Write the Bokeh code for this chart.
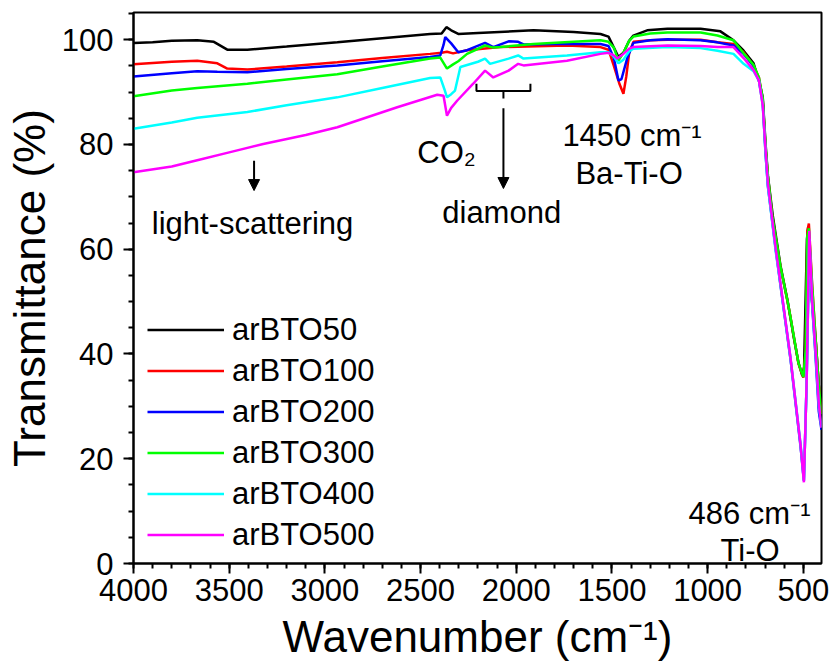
from bokeh.plotting import figure
from bokeh.models import Range1d, FixedTicker, Legend, LegendItem, Label, Arrow, NormalHead
from bokeh.embed import file_html
from bokeh.resources import INLINE

FONT = "Liberation Sans"

series_names = ["arBTO50", "arBTO100", "arBTO200", "arBTO300", "arBTO400", "arBTO500"]
series_colors = ["#000000", "#FF0000", "#0000FF", "#00FF00", "#00FFFF", "#FF00FF"]

wn_50 = [4000, 3900, 3800, 3667, 3580, 3510, 3405, 3200, 2935, 2700, 2450, 2390, 2365, 2340, 2303, 2200, 1910, 1700, 1560, 1518, 1490, 1466, 1440, 1410, 1388, 1316, 1210, 1037, 933, 865, 812, 760, 732, 712, 697, 685, 660, 619, 583, 551, 525, 505, 496, 481, 474, 455, 436, 420, 405]
t_50 = [99.4, 99.5, 99.8, 99.9, 99.6, 98.1, 98.1, 98.7, 99.5, 100.3, 101.1, 101.2, 102.4, 101.8, 101.1, 101.3, 101.8, 101.5, 101.1, 100.6, 98.5, 96.7, 97.5, 99.8, 100.8, 101.8, 102.1, 102.1, 101.6, 99.9, 97.9, 95.5, 92.2, 89.0, 80.0, 74.0, 66.5, 56.8, 50.3, 43.4, 38.3, 35.8, 37.5, 62.0, 64.3, 50.3, 43.0, 34.5, 28.8]

wn_100 = [4000, 3800, 3667, 3562, 3510, 3405, 3200, 2935, 2700, 2450, 2390, 2362, 2330, 2257, 2083, 1735, 1560, 1518, 1490, 1460, 1440, 1425, 1410, 1388, 1300, 1210, 1037, 949, 865, 812, 760, 732, 712, 697, 685, 662, 619, 583, 567, 525, 500, 488, 479, 471, 454, 436, 420, 405]
t_100 = [95.3, 95.8, 96.0, 95.5, 94.5, 94.3, 94.9, 95.7, 96.5, 97.3, 97.5, 97.7, 97.4, 98.0, 98.6, 98.9, 98.6, 98.1, 95.0, 91.5, 89.7, 93.0, 97.5, 99.6, 99.9, 100.0, 100.0, 99.5, 99.2, 97.6, 95.0, 92.8, 88.5, 79.0, 73.8, 66.1, 56.5, 50.1, 47.0, 38.1, 35.5, 40.6, 63.5, 64.9, 53.4, 43.1, 34.3, 28.6]

wn_200 = [4000, 3800, 3667, 3562, 3405, 3200, 2935, 2700, 2450, 2397, 2380, 2371, 2340, 2303, 2257, 2163, 2120, 2040, 1990, 1962, 1800, 1560, 1518, 1490, 1466, 1450, 1420, 1388, 1300, 1210, 1037, 949, 865, 812, 760, 732, 712, 697, 685, 644, 619, 567, 515, 497, 483, 469, 454, 436, 419, 405]
t_200 = [93.0, 93.6, 94.0, 93.9, 93.8, 94.4, 95.1, 95.9, 96.7, 97.0, 99.0, 100.5, 99.3, 97.6, 98.0, 99.4, 98.6, 99.7, 99.6, 99.1, 99.2, 99.2, 98.8, 96.5, 92.2, 92.5, 96.5, 99.4, 99.9, 100.1, 99.9, 99.5, 98.9, 97.3, 95.0, 92.2, 88.0, 78.0, 72.0, 60.0, 53.0, 39.0, 22.5, 15.8, 34.0, 62.0, 49.5, 39.5, 29.0, 25.5]

wn_300 = [4000, 3800, 3667, 3405, 3200, 2935, 2700, 2450, 2397, 2362, 2330, 2303, 2257, 2163, 2120, 2083, 1910, 1560, 1518, 1490, 1466, 1440, 1410, 1388, 1300, 1210, 1037, 949, 865, 812, 760, 732, 712, 697, 685, 662, 619, 583, 567, 525, 500, 488, 479, 471, 454, 436, 420, 405]
t_300 = [89.2, 90.3, 90.8, 91.6, 92.4, 93.4, 94.9, 96.4, 96.6, 94.5, 95.3, 95.9, 97.3, 98.9, 98.5, 98.6, 99.2, 99.9, 99.6, 98.5, 96.0, 97.5, 99.8, 100.6, 101.2, 101.4, 101.4, 100.8, 99.9, 97.4, 95.2, 92.8, 88.8, 79.5, 74.0, 66.3, 56.6, 50.2, 47.0, 38.2, 35.6, 40.6, 62.5, 64.0, 53.0, 43.0, 34.3, 28.5]

wn_400 = [4000, 3800, 3667, 3405, 3200, 2935, 2700, 2450, 2397, 2375, 2362, 2340, 2320, 2292, 2200, 2163, 2137, 2040, 1990, 1962, 1735, 1560, 1518, 1490, 1466, 1440, 1410, 1388, 1210, 1037, 949, 865, 812, 760, 732, 712, 697, 685, 644, 619, 567, 515, 497, 483, 469, 454, 436, 419, 405]
t_400 = [83.0, 84.2, 85.1, 86.2, 87.5, 89.0, 90.8, 92.7, 92.8, 90.5, 89.0, 89.6, 90.3, 94.8, 95.8, 96.4, 95.4, 96.4, 97.0, 96.4, 97.0, 97.6, 97.6, 96.8, 95.5, 96.2, 97.8, 98.3, 98.6, 98.4, 97.9, 97.3, 95.4, 94.0, 92.2, 87.5, 78.3, 72.0, 59.5, 53.2, 39.2, 23.0, 15.8, 34.3, 62.0, 49.8, 40.2, 30.3, 26.0]

wn_500 = [4000, 3800, 3667, 3500, 3322, 3100, 2935, 2622, 2413, 2380, 2362, 2340, 2308, 2225, 2163, 2120, 2040, 1990, 1962, 1735, 1560, 1518, 1490, 1472, 1440, 1410, 1388, 1210, 1037, 949, 865, 812, 760, 732, 712, 697, 685, 644, 619, 567, 515, 497, 483, 469, 454, 436, 419, 405]
t_500 = [74.7, 75.8, 77.0, 78.5, 80.1, 81.8, 83.3, 87.1, 89.5, 89.3, 85.5, 87.0, 88.4, 91.6, 94.1, 92.8, 94.1, 95.4, 95.1, 96.0, 97.3, 97.5, 97.0, 96.4, 97.3, 98.3, 98.6, 98.9, 98.8, 98.6, 98.6, 96.5, 94.2, 92.2, 87.5, 78.8, 72.5, 60.0, 53.4, 39.3, 22.9, 15.5, 34.3, 63.5, 50.2, 40.6, 30.5, 25.9]

all_wn = [wn_50, wn_100, wn_200, wn_300, wn_400, wn_500]
all_t = [t_50, t_100, t_200, t_300, t_400, t_500]

x_major = [4000, 3500, 3000, 2500, 2000, 1500, 1000, 500]
x_minor = list(range(4000, 399, -100))
y_major = [0, 20, 40, 60, 80, 100]
y_minor = list(range(0, 106, 5))

p = figure(width=831, height=665, output_backend="svg", toolbar_location=None,
           x_range=Range1d(4000, 405), y_range=Range1d(0, 105.2),
           min_border_left=133, min_border_right=10, min_border_top=12, min_border_bottom=102)
p.background_fill_color = "white"
p.border_fill_color = "white"
p.outline_line_color = "black"
p.outline_line_width = 2
p.grid.visible = False

p.xaxis.ticker = FixedTicker(ticks=x_major, minor_ticks=x_minor)
p.yaxis.ticker = FixedTicker(ticks=y_major, minor_ticks=y_minor)
p.xaxis.axis_label = "Wavenumber (cm\u207b\u00b9)"
p.yaxis.axis_label = "Transmittance (%)"
for ax in (p.xaxis, p.yaxis):
    ax.axis_line_width = 2
    ax.major_tick_line_width = 2
    ax.minor_tick_line_width = 2
    ax.major_tick_in = 0
    ax.major_tick_out = 10
    ax.minor_tick_in = 0
    ax.minor_tick_out = 5
    ax.major_label_text_font = FONT
    ax.major_label_text_font_size = "31px"
    ax.major_label_text_color = "black"
    ax.axis_label_text_font = FONT
    ax.axis_label_text_font_size = "44px"
    ax.axis_label_text_font_style = "normal"
    ax.axis_label_text_color = "black"
p.xaxis.major_label_standoff = 5
p.xaxis.axis_label_standoff = 8
p.yaxis.major_label_standoff = 10
p.yaxis.axis_label_standoff = 5

items = []
for name, color, wn, t in zip(series_names, series_colors, all_wn, all_t):
    r = p.line(wn, t, line_color=color, line_width=2.5)
    items.append(LegendItem(label=name, renderers=[r]))

legend = Legend(items=items, location=(14, 8), margin=0, padding=0,
                glyph_width=77, glyph_height=41, label_height=41, spacing=0,
                label_standoff=8, label_text_font=FONT, label_text_font_size="31px",
                label_text_color="black",
                background_fill_alpha=0, border_line_alpha=0)
p.add_layout(legend)

# annotations
def add_label(x, y, text, align="left", size="31px"):
    p.add_layout(Label(x=x, y=y, text=text, text_align=align, text_baseline="alphabetic",
                       text_font=FONT, text_font_size=size, text_color="black"))

add_label(3378, 64.9, "light-scattering", align="center")
add_label(2517, 78.4, "CO\u2082")
add_label(2076, 67.0, "diamond", align="center")
add_label(1759, 81.7, "1450 cm\u207b\u00b9")
add_label(1691, 74.5, "Ba-Ti-O")
add_label(1100, 9.5, "486 cm\u207b\u00b9")
add_label(933, 2.4, "Ti-O")

p.add_layout(Arrow(end=NormalHead(size=11, fill_color="black", line_color="black"),
                   x_start=3370, y_start=76.9, x_end=3370, y_end=71.2,
                   line_color="black", line_width=2))
p.add_layout(Arrow(end=NormalHead(size=11, fill_color="black", line_color="black"),
                   x_start=2067, y_start=86.9, x_end=2067, y_end=71.6,
                   line_color="black", line_width=2))

bracket_x = [2208, 2208, 1926, 1926]
bracket_y = [91.6, 90.2, 90.2, 91.6]
p.line(bracket_x, bracket_y, line_color="black", line_width=2)
p.line([2067, 2067], [90.2, 88.8], line_color="black", line_width=2)

open("out.html", "w").write(file_html(p, INLINE))
